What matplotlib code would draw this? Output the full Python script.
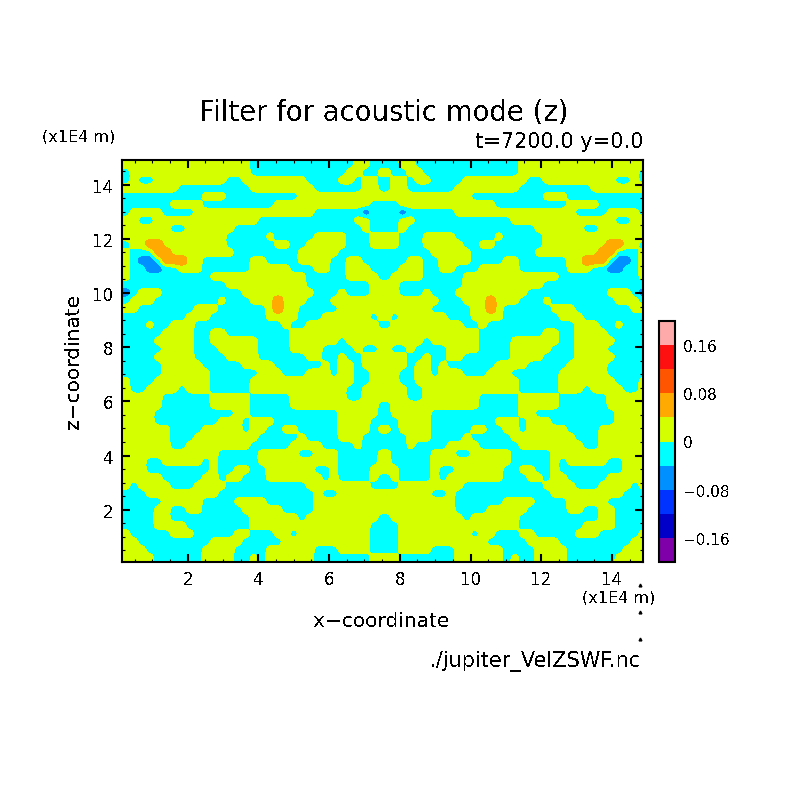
import matplotlib
matplotlib.use('Agg')
import matplotlib.pyplot as plt
import numpy as np
from matplotlib.lines import Line2D

plt.rcParams['text.antialiased'] = False

# left half of the field, top row first. - cyan, + yellow, b light blue, o orange
left_half = [
"++++++++++++++++" "-------------++--",
"-+++++++++++++++" "------------++--+",
"-+--+++++++++--+" "+++++++----++-++-",
"+++++++---------" "++++++++------++-",
"----------+++---" "------+++++++++++",
"------++++------" "---++++++++++++--",
"-++++----+++++++" "++++++++------b--",
"++--++++++++++++" "+------------++--",
"++++++--++++++--" "--------------+--",
"+++++++++++++---" "--+-----++++---++",
"-++oo++++++++---" "---++--+++++---++",
"+---oo++++++++--" "------+++++------",
"+-bb-ooo++------" "++----++++--++---",
"+--bb--+++------" "+++++---++--+++--",
"+----------+++++" "+++++++-----++++-",
"-------------+++" "+++++++--------++",
"b-+++----------+" "++++++++---+---++",
"-+++--------+---" "+++o+++---+++++++",
"++-------+++----" "--+o++-----++++++",
"--------+++-----" "--++++---++++++-+",
"---+--+++-------" "----+--+++++++++-",
"-----++++--++---" "-----++++++++++++",
"----+++++--+++++" "+----++++++-+++++",
"-----++++---++++" "+----++++----+--+",
"----+++++----+++" "+------++--+--+++",
"-----+++++-----+" "+++------+-++-+++",
"-----++++++-----" "-+++---+++-++--++",
"+---+++++++-----" "+++++++++++++--++",
"+--++++-+++-----" "++++++++++++--+++",
"+++++------+++++" "-----+++++++--+++",
"+++++------+++++" "-----+++++++++++-",
"++++----------++" "-----------+++++-",
"++++--------+++-" "+++--------++++--",
"++++++----+++++-" "++--++-----++++-+",
"++++++---+++++++" "+-----+----+++---",
"++++++--++++++++" "-----++++----+---",
"++++++++++++----" "-+++++--+++-----+",
"+++--+++++-+----" "-++++++++++-----+",
"+++--------+--++" "--++++++--+----++",
"+++++-----++-++-" "--+++++++-+----+-",
"+-++++---++++---" "-------++++++++--",
"---+++++++++----" "--------+--++++++",
"-----+++++----++" "++------+++++++++",
"----++--++-----+" "++++----+++++++++",
"----++----------" "++++++-+++++++++-",
"----++++--------" "+++++++++++++++--",
"+-----+++-----++" "---++-+++++++++--",
"++---------++++-" "----+++++++++++--",
"+++-------++++--" "--++++++---++++--",
"++++------++++--" "+-++++++-------++",
]
cell_values = {'-': -0.02, '+': 0.02, 'b': -0.079, 'o': 0.079}
levels = [-0.2, -0.16, -0.12, -0.08, -0.04, 0, 0.04, 0.08, 0.12, 0.16, 0.2]
colors = ['#7f00a8', '#0000c8', '#0033ff', '#0090ff', '#00ffff',
          '#d4ff00', '#ffaa00', '#ff5500', '#ff1010', '#ffaaaa']
cbar_ticks = [-0.16, -0.08, 0, 0.08, 0.16]
cbar_labels = ['\u22120.16', '\u22120.08', '0', '0.08', '0.16']
x_ticks = [2, 4, 6, 8, 10, 12, 14]
y_ticks = [2, 4, 6, 8, 10, 12, 14]

xmin, xmax = 0.14, 14.88
ymin, ymax = 0.07, 14.91
dx = 8 / 35.35
dy = 8.04 / 27.1
centre = 7.565
sub = 3  # sub-cells per read cell, the rounding happens on these

half = np.array([[cell_values[c] for c in row] for row in left_half])
full = np.hstack([half, half[:, ::-1]])
fine = np.repeat(np.repeat(full, sub, axis=0), sub, axis=1)
kernel = np.array([1, 4, 6, 4, 1]) / 16.0
fine = np.pad(fine, 2, mode='edge')
fine = np.apply_along_axis(lambda v: np.convolve(v, kernel, mode='valid'), 0, fine)
fine = np.apply_along_axis(lambda v: np.convolve(v, kernel, mode='valid'), 1, fine)
fine = np.pad(fine, 1, mode='edge')

xl = xmin + dx / sub * (np.arange(33 * sub) + 0.5)
xs = np.concatenate([xl, 2 * centre - xl[::-1]])
xs = np.concatenate([[xmin - 0.01], xs, [xs[-1] + dx]])
ys = ymax - dy / sub * (np.arange(50 * sub) + 0.5)
ys = np.concatenate([[ymax + 0.01], ys, [ymin - 0.01]])

fig = plt.figure(figsize=(8.04, 8.04), dpi=100)
S = 804.0


def px_text(x, y, s, **kw):
    fig.text(x / S, 1 - y / S, s, color='black', **kw)


ax = fig.add_axes([122 / S, 1 - 563 / S, 521 / S, 402 / S])
cf = ax.contourf(xs, ys, fine, levels=levels, colors=colors, antialiased=False)
ax.set_xlim(xmin, xmax)
ax.set_ylim(ymin, ymax)
ax.set_xticks(x_ticks)
ax.set_yticks(y_ticks)
ax.set_xticks(np.arange(0.5, 15, 0.5), minor=True)
ax.set_yticks(np.arange(0.5, 15, 0.5), minor=True)
ax.tick_params(which='major', direction='in', top=True, right=True, length=6, width=1.5, labelsize=12, pad=6)
ax.tick_params(which='minor', direction='in', top=True, right=True, length=2.5, width=0.8)
for sp in ax.spines.values():
    sp.set_linewidth(1.5)

cax = fig.add_axes([659 / S, 1 - 563 / S, 16 / S, 241 / S])
cbar = fig.colorbar(cf, cax=cax, ticks=cbar_ticks)
cbar.ax.set_yticklabels(cbar_labels)
cbar.ax.tick_params(length=0, labelsize=11, pad=6)
cbar.outline.set_linewidth(1.5)

px_text(384, 113, 'Filter for acoustic mode (z)', fontsize=19.8, ha='center', va='center')
px_text(643, 142, 't=7200.0 y=0.0', fontsize=15, ha='right', va='center')
px_text(42, 137, '(x1E4 m)', fontsize=11.5, ha='left', va='center')
px_text(655, 598, '(x1E4 m)', fontsize=11.5, ha='right', va='center')
px_text(382, 622, 'x\u2212coordinate', fontsize=14.5, ha='center', va='center')
px_text(74, 361, 'z\u2212coordinate', fontsize=14.5, ha='center', va='center', rotation=90)
px_text(641, 662, './jupiter_VelZSWF.nc', fontsize=15, ha='right', va='center')

# stray marks under the right end of the axis
for y in [586, 613, 640]:
    fig.add_artist(Line2D([640 / S], [1 - y / S], marker='^', ms=2, color='black', ls='none'))

fig.savefig('out.png', dpi=100)
